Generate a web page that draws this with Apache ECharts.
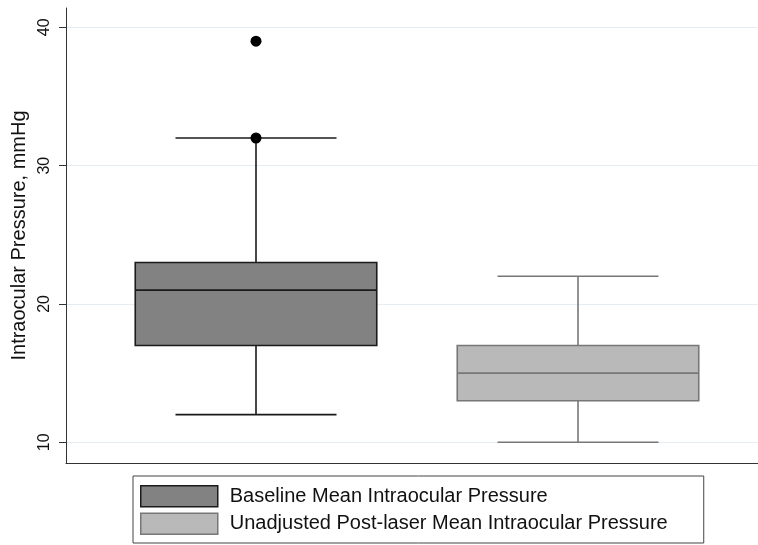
<!DOCTYPE html>
<html>
<head>
<meta charset="utf-8">
<script src="https://cdn.jsdelivr.net/npm/echarts@6/dist/echarts.min.js"></script>
<style>
html,body{margin:0;padding:0;background:#fff;}
#chart{width:758px;height:545px;}
</style>
</head>
<body>
<div id="chart"></div>
<script>
// ---- data ----
const categories = ['Baseline', 'Post-laser'];
const seriesNames = ['Baseline Mean Intraocular Pressure', 'Unadjusted Post-laser Mean Intraocular Pressure'];
// [lower whisker, Q1, median, Q3, upper whisker]
const baselineStats = [12, 17, 21, 23, 32];
const postLaserStats = [10, 13, 15, 17, 22];
const baselineOutliers = [32, 39];
const yTicks = [10, 20, 30, 40];
const yTitle = 'Intraocular Pressure, mmHg';

const Y_MIN = 8.5, Y_MAX = 41.4;
const FONT = '"Liberation Sans", Arial, Helvetica, sans-serif';

const styles = [
  { fill: '#828282', stroke: '#1a1a1a' },
  { fill: '#b9b9b9', stroke: '#777777' }
];

function makeRender(style) {
  return function (params, api) {
    const x = api.value(0);
    const lo = api.coord([x, api.value(1)]);
    const q1 = api.coord([x, api.value(2)]);
    const md = api.coord([x, api.value(3)]);
    const q3 = api.coord([x, api.value(4)]);
    const hi = api.coord([x, api.value(5)]);
    const band = api.size([1, 0])[0];
    const bw = band * 0.75 / 2;
    const cw = band * 0.5 / 2;
    const cx = md[0];
    const ls = { stroke: style.stroke, lineWidth: 1.6 };
    return {
      type: 'group',
      children: [
        { type: 'line', shape: { x1: cx, y1: lo[1], x2: cx, y2: q1[1] }, style: ls },
        { type: 'line', shape: { x1: cx, y1: q3[1], x2: cx, y2: hi[1] }, style: ls },
        { type: 'line', shape: { x1: cx - cw, y1: lo[1], x2: cx + cw, y2: lo[1] }, style: ls },
        { type: 'line', shape: { x1: cx - cw, y1: hi[1], x2: cx + cw, y2: hi[1] }, style: ls },
        { type: 'rect', shape: { x: cx - bw, y: q3[1], width: 2 * bw, height: q1[1] - q3[1] },
          style: { fill: style.fill, stroke: style.stroke, lineWidth: 1.6 } },
        { type: 'line', shape: { x1: cx - bw, y1: md[1], x2: cx + bw, y2: md[1] }, style: ls }
      ]
    };
  };
}

const chart = echarts.init(document.getElementById('chart'), null, { renderer: 'canvas' });
chart.setOption({
  animation: false,
  backgroundColor: '#ffffff',
  grid: [
    { left: 66, right: 0, top: 8, bottom: 82 },
    { left: 95, right: 19, top: 8, bottom: 82 }
  ],
  xAxis: [
    { gridIndex: 0, type: 'value', min: 0, max: 1,
      axisLine: { show: true, lineStyle: { color: '#333', width: 1 } },
      axisTick: { show: false }, axisLabel: { show: false }, splitLine: { show: false } },
    { gridIndex: 1, type: 'category', data: categories, show: false }
  ],
  yAxis: [
    { gridIndex: 0, type: 'value', min: Y_MIN, max: Y_MAX,
      name: yTitle, nameLocation: 'middle', nameGap: 33,
      nameTextStyle: { fontFamily: FONT, fontSize: 20, color: '#111' },
      axisLine: { show: true, lineStyle: { color: '#333', width: 1 } },
      axisTick: { show: true, length: 7, customValues: yTicks, lineStyle: { color: '#333' } },
      axisLabel: { customValues: yTicks, rotate: 90, margin: 13, fontFamily: FONT, fontSize: 16, color: '#111' },
      splitLine: { show: true, lineStyle: { color: '#e3edf3', width: 1 } } },
    { gridIndex: 1, type: 'value', min: Y_MIN, max: Y_MAX, show: false, splitLine: { show: false } }
  ],
  legend: {
    orient: 'vertical',
    left: 133, top: 476, height: 120,
    padding: [9, 36, 8, 7],
    itemWidth: 77, itemHeight: 21, itemGap: 5,
    borderColor: '#444', borderWidth: 1,
    textStyle: { fontFamily: FONT, fontSize: 20, color: '#111', padding: [0, 0, 0, 7], lineHeight: 20 },
    data: [
      { name: seriesNames[0], icon: 'rect', itemStyle: { color: styles[0].fill, borderColor: styles[0].stroke, borderWidth: 1.5 } },
      { name: seriesNames[1], icon: 'rect', itemStyle: { color: styles[1].fill, borderColor: styles[1].stroke, borderWidth: 1.5 } }
    ]
  },
  series: [
    { name: seriesNames[0], type: 'custom', xAxisIndex: 1, yAxisIndex: 1,
      renderItem: makeRender(styles[0]),
      itemStyle: { color: styles[0].fill, borderColor: styles[0].stroke },
      encode: { x: 0, y: [1, 2, 3, 4, 5] },
      data: [[0].concat(baselineStats)] },
    { name: seriesNames[1], type: 'custom', xAxisIndex: 1, yAxisIndex: 1,
      renderItem: makeRender(styles[1]),
      itemStyle: { color: styles[1].fill, borderColor: styles[1].stroke },
      encode: { x: 0, y: [1, 2, 3, 4, 5] },
      data: [[1].concat(postLaserStats)] },
    { name: 'Baseline outliers', type: 'scatter', xAxisIndex: 1, yAxisIndex: 1,
      symbol: 'circle', symbolSize: 11, itemStyle: { color: '#000', opacity: 1 }, z: 5,
      data: baselineOutliers.map(v => [0, v]) }
  ]
});
</script>
</body>
</html>
